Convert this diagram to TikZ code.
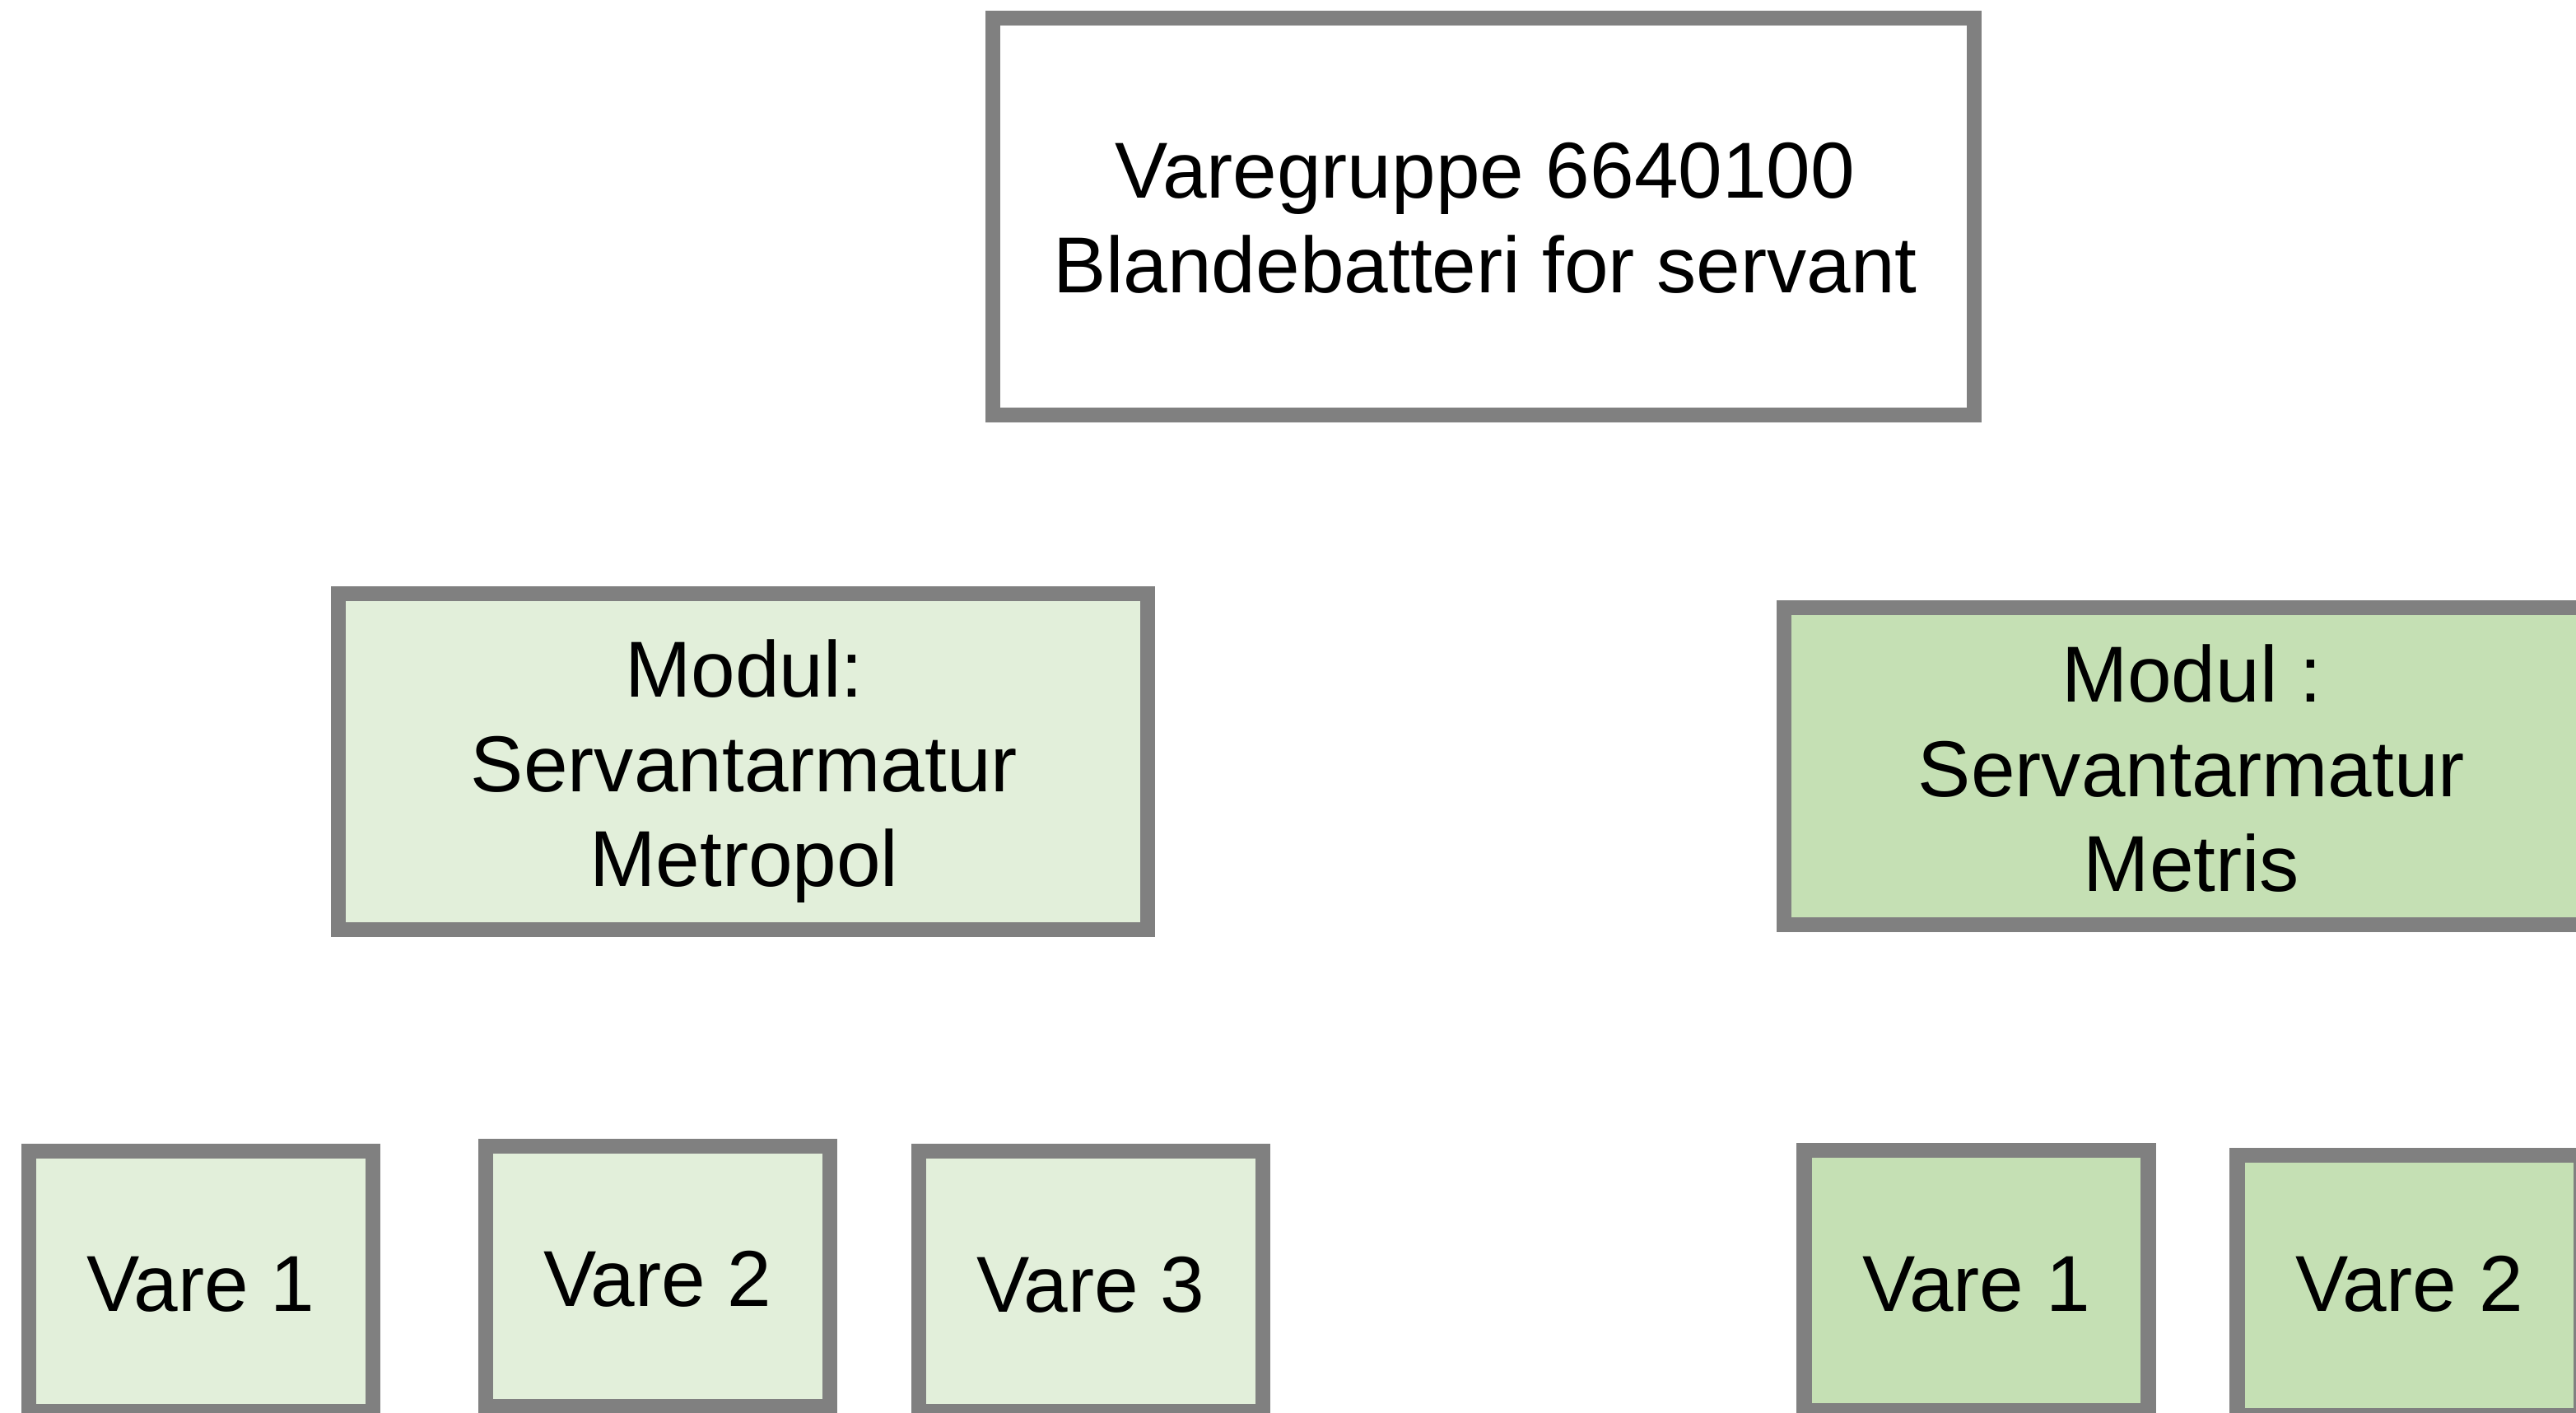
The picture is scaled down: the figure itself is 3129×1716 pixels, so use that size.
\documentclass[tikz,border=0pt]{standalone}
\usepackage{fontspec}
\setmainfont{Liberation Sans}
\definecolor{bordergray}{HTML}{808080}
\definecolor{greenlight}{HTML}{E2EFDA}
\definecolor{greenmid}{HTML}{C5E0B4}
\tikzset{
  boxbase/.style={draw=bordergray, line width=0.185cm, rectangle, inner sep=0pt},
  topbox/.style={boxbase, fill=white, minimum width=11.915cm, minimum height=4.815cm},
  modl/.style={boxbase, fill=greenlight, minimum width=9.825cm, minimum height=4.075cm},
  modr/.style={boxbase, fill=greenmid, minimum width=9.855cm, minimum height=3.845cm},
  varel/.style={boxbase, fill=greenlight, minimum width=4.175cm, minimum height=3.155cm},
  varer/.style={boxbase, fill=greenmid, minimum width=4.175cm, minimum height=3.155cm},
  lbl/.style={inner sep=0pt, align=center, text=black, font=\fontsize{27.4}{32.7}\selectfont}
}
\begin{document}
\begin{tikzpicture}[x=0.01cm, y=-0.01cm]
\useasboundingbox (0,0) rectangle (3129,1716);
\clip (0,0) rectangle (3129,1716);
% boxes
\node[topbox] (top) at (1802,263) {};
\node[modl] (modL) at (902.5,925) {};
\node[modr] (modR) at (2660,930.5) {};
\node[varel] (v1L) at (244,1556) {};
\node[varel] (v2L) at (799,1550) {};
\node[varel] (v3L) at (1325,1556) {};
\node[varer] (v1R) at (2400.5,1555) {};
\node[varer] (v2R) at (2926.5,1561) {};
% texts
\node[lbl] (tTop) at (1804,275) {\strut Varegruppe 6640100\\\strut Blandebatteri for servant};
\node[lbl] (tModL) at (904,939) {\strut Modul:\\\strut Servantarmatur\\\strut Metropol};
\node[lbl] (tModR) at (2662,945) {\strut Modul :\\\strut Servantarmatur\\\strut Metris};
\node[lbl] (t1L) at (244,1570) {\strut Vare 1};
\node[lbl] (t2L) at (799,1564) {\strut Vare 2};
\node[lbl] (t3L) at (1325,1571) {\strut Vare 3};
\node[lbl] (t1R) at (2400.5,1570) {\strut Vare 1};
\node[lbl] (t2R) at (2926.5,1570) {\strut Vare 2};
\end{tikzpicture}
\end{document}
